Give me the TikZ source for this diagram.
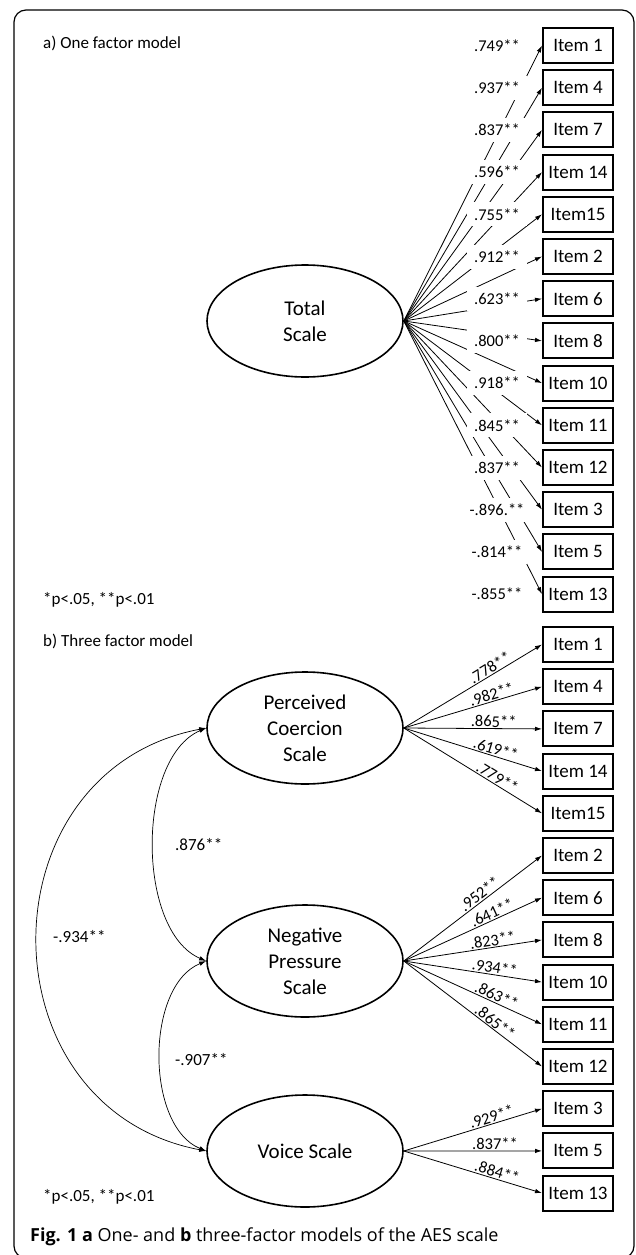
\documentclass[tikz,border=0pt]{standalone}
\usepackage{fontspec}
\setmainfont{Carlito}
\newfontfamily\capfont{Open Sans}
\usetikzlibrary{arrows.meta,shapes.geometric}
\begin{document}
\begin{tikzpicture}[x=1pt, y=-1pt,
latent/.style={draw, ellipse, line width=1.6pt, minimum width=196pt, minimum height=112pt, inner sep=0pt, align=center, font=\fontsize{21}{26}\selectfont},
item/.style={draw, line width=2pt, minimum width=70pt, minimum height=35pt, inner sep=0pt, anchor=west, font=\fontsize{19}{22}\selectfont},
load/.style={-{Latex[length=7pt,width=4.5pt]}, line width=0.8pt},
cov/.style={{Latex[length=7pt,width=4.5pt]}-{Latex[length=7pt,width=4.5pt]}, line width=0.7pt},
coef/.style={fill=white, minimum width=60pt, minimum height=24pt, inner sep=0pt, font=\fontsize{16.5}{18}\selectfont},
scoef/.style={sloped, above, inner sep=1pt, font=\fontsize{16.5}{18}\selectfont},
note/.style={anchor=west, inner sep=0pt, font=\fontsize{17}{20}\selectfont}]
\useasboundingbox (0,0) rectangle (635,1255);
\draw[line width=1.2pt, rounded corners=12pt] (14,10) rectangle (634,1258);
\node[note] (ta) at (43,43) {a) One factor model};
\node[note] (pa) at (43,600) {*p<.05, **p<.01};
\node[latent] (total) at (305,321) {Total\\Scale};
\foreach \t [count=\k] in {Item 1,Item 4,Item 7,Item 14,Item15,Item 2,Item 6,Item 8,Item 10,Item 11,Item 12,Item 3,Item 5,Item 13}
{\node[item] (a\k) at (542,{3.3+42.2*\k}) {\t};
\draw[load] (total.east) -- (a\k.west);}
\foreach \c [count=\k] in {.749**,.937**,.837**,.596**,.755**,.912**,.623**,.800**,.918**,.845**,.837**,-.896.**,-.814**,-.855**}
\node[coef] (ca\k) at (497,{3.3+42.2*\k}) {\c};
\node[note] (tb) at (43,641) {b) Three factor model};
\node[note] (pb) at (43,1197) {*p<.05, **p<.01};
\node[latent] (perc) at (305,728) {Perceived\\Coercion\\Scale};
\node[latent] (neg) at (305,961) {Negative\\Pressure\\Scale};
\node[latent] (voice) at (305,1151) {Voice Scale};
\foreach \t/\c/\f/\p [count=\k] in {Item 1/.778**/perc/.65,Item 4/.982**/perc/.65,Item 7/.865**/perc/.65,Item 14/.619**/perc/.65,Item15/.779**/perc/.65,
Item 2/.952**/neg/.58,Item 6/.641**/neg/.66,Item 8/.823**/neg/.65,Item 10/.934**/neg/.65,Item 11/.863**/neg/.65,Item 12/.865**/neg/.63,
Item 3/.929**/voice/.65,Item 5/.837**/voice/.66,Item 13/.884**/voice/.66}
{\node[item] (b\k) at (542,{602.3+42.2*\k}) {\t};
\draw[load] (\f.east) -- node[scoef, pos=\p] (cb\k) {\c} (b\k.west);}
\draw[cov] (perc.west) .. controls +(-70,30) and +(-70,-30) .. (neg.west);
\draw[cov] (neg.west) .. controls +(-61,25) and +(-61,-25) .. (voice.west);
\draw[cov] (perc.west) .. controls +(-225,43) and +(-225,-43) .. (voice.west);
\node[note] (r1) at (175,845) {.876**};
\node[note] (r2) at (175,1060) {-.907**};
\node[note] (r3) at (53,937) {-.934**};
\node[anchor=west, inner sep=0pt, font=\capfont\fontsize{18}{22}\selectfont] (cap) at (30,1237) {\textbf{Fig. 1 a} One- and \textbf{b} three-factor models of the AES scale};
\end{tikzpicture}
\end{document}
